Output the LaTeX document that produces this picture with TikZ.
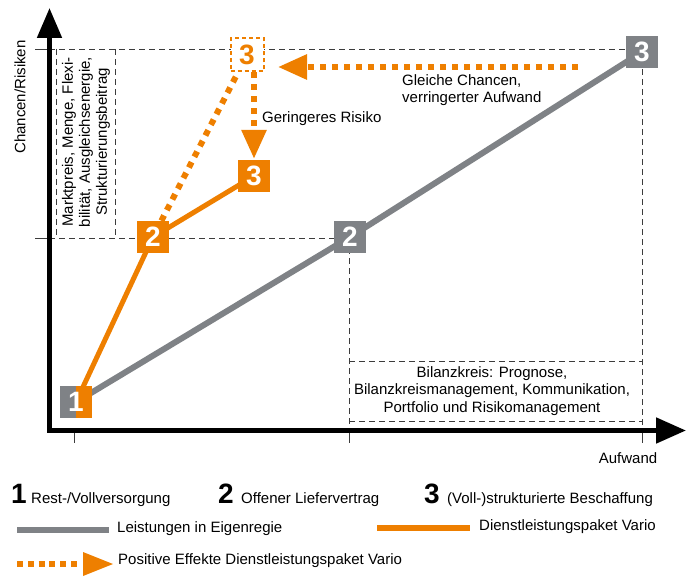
\documentclass[tikz,border=0pt]{standalone}
\usepackage{fontspec}
\setmainfont{Liberation Sans}
\usetikzlibrary{arrows.meta,backgrounds}
\definecolor{vgray}{RGB}{127,130,134}
\definecolor{vorange}{RGB}{238,127,0}
\definecolor{guide}{RGB}{60,60,60}
\begin{document}
\begin{tikzpicture}[x=1pt,y=-1pt,
  txt/.style={font=\fontsize{15}{17}\selectfont, inner sep=0pt},
  guideline/.style={guide, line width=0.9pt, dash pattern=on 6pt off 4pt},
  tickline/.style={guide, line width=0.9pt},
  axisline/.style={line width=5pt, line join=miter, arrows={Triangle[width=24pt,length=30pt]-Triangle[width=25pt,length=30pt]}},
  gline/.style={vgray, line width=6pt},
  oline/.style={vorange, line width=5pt},
  odots/.style={vorange, line width=6pt, dash pattern=on 6pt off 6pt},
  otip/.style={arrows={-Triangle[width=24pt,length=29pt]}},
  numbox/.style={minimum size=32pt, inner sep=0pt, text=white, font=\fontsize{28}{28}\selectfont\bfseries},
  gbox/.style={numbox, fill=vgray},
  obox/.style={numbox, fill=vorange},
  dbox/.style={numbox, minimum size=33pt, fill=white, draw=vorange, line width=2pt, dash pattern=on 4pt off 3pt, text=vorange},
  bignum/.style={font=\fontsize{28}{28}\selectfont\bfseries, inner sep=0pt},
]
\useasboundingbox (0,0) rectangle (692,577);

% boxes
\node[gbox] (g1) at (76,402) {};
\node[fill=vorange, minimum width=16pt, minimum height=32pt, inner sep=0pt] (o1) at (84,402) {};
\node[numbox] (n1) at (g1) {1};
\node[gbox] (g2) at (350,237) {2};
\node[gbox] (g3) at (642,52) {3};
\node[obox] (o2) at (153,237) {2};
\node[obox] (o3) at (254,176) {3};
\node[dbox] (d3) at (247,55) {3};

\coordinate (O) at (49.5,430.5);
\coordinate (ytip) at (49.5,8);
\coordinate (xtip) at (686,430.5);
\coordinate (hs) at (578,67);

\begin{pgfonlayer}{background}
  % guides
  \draw[guideline] (49,49) -- (642,49);
  \draw[guideline] (49,238) -- (349,238);
  \draw[guideline] (56,49) -- (56,238);
  \draw[guideline] (115,49) -- (115,238);
  \draw[guideline] (349,238) -- (349,431);
  \draw[guideline] (642,49) -- (642,431);
  \draw[guideline] (349,361) -- (642,361);
  \draw[guideline] (349,421) -- (642,421);
  \draw[tickline] (35,49) -- (49,49);
  \draw[tickline] (35,238) -- (49,238);
  \draw[tickline] (74,431) -- (74,443);
  \draw[tickline] (349,431) -- (349,443);
  \draw[tickline] (642,431) -- (642,443);
  % curves
  \draw[gline] (g1.center) -- (g2.center) -- (g3.center);
  \draw[oline] (g1.center) -- (o2.center) -- (o3.center);
\end{pgfonlayer}

% axes
\draw[axisline] (ytip) -- (O) -- (xtip);

% positive effects
\draw[odots] (o2) -- (d3);
\draw[odots, otip, shorten >=1pt] (d3.south -| o3) -- (o3.north);
\draw[odots, otip, shorten >=13.5pt] (hs) -- (d3.east |- hs);

% texts
\node[txt, rotate=90] (ylab) at (20,97) {Chancen/Risiken};
\node[txt, anchor=north] (xlab) at (628,452) {Aufwand};
\node[txt, rotate=90, align=center, font=\fontsize{15}{17}\selectfont] (lbox) at (86,142) {Marktpreis, Menge, Flexi-\\bilität, Ausgleichsenergie,\\Strukturierungsbeitrag};
\node[txt, align=center, font=\fontsize{15}{17.5}\selectfont] (bbox) at (492,391) {Bilanzkreis: Prognose,\\Bilanzkreismanagement, Kommunikation,\\Portfolio und Risikomanagement};
\node[txt, anchor=west, align=left] (gleich) at (402,90) {Gleiche Chancen,\\verringerter Aufwand};
\node[txt, anchor=west] (gering) at (262,119) {Geringeres Risiko};

% legend
\node[bignum, anchor=base] (l1) at (19,503) {1};
\node[txt, anchor=base west] (t1) at (31,503) {Rest-/Vollversorgung};
\node[bignum, anchor=base] (l2) at (226,503) {2};
\node[txt, anchor=base west] (t2) at (241,503) {Offener Liefervertrag};
\node[bignum, anchor=base] (l3) at (432,503) {3};
\node[txt, anchor=base west] (t3) at (447,503) {(Voll-)strukturierte Beschaffung};

\coordinate (lg1) at (17,530);
\coordinate (lg2) at (109,530);
\draw[gline] (lg1) -- (lg2);
\node[txt, anchor=west] (tg) at (117,529) {Leistungen in Eigenregie};
\coordinate (lo1) at (377,528);
\coordinate (lo2) at (470,528);
\draw[oline, line width=6pt] (lo1) -- (lo2);
\node[txt, anchor=west] (to) at (479,527) {Dienstleistungspaket Vario};
\coordinate (ld1) at (17,564);
\coordinate (ld2) at (77,564);
\coordinate (la1) at (83,564);
\coordinate (la2) at (113,564);
\draw[odots, dash pattern=on 6pt off 4.8pt] (ld1) -- (ld2);
\fill[vorange] (la1) -- ++(0,-12) -- (la2) -- ++(-30,12) -- cycle;
\node[txt, anchor=west] (td) at (118,561) {Positive Effekte Dienstleistungspaket Vario};
\end{tikzpicture}
\end{document}
